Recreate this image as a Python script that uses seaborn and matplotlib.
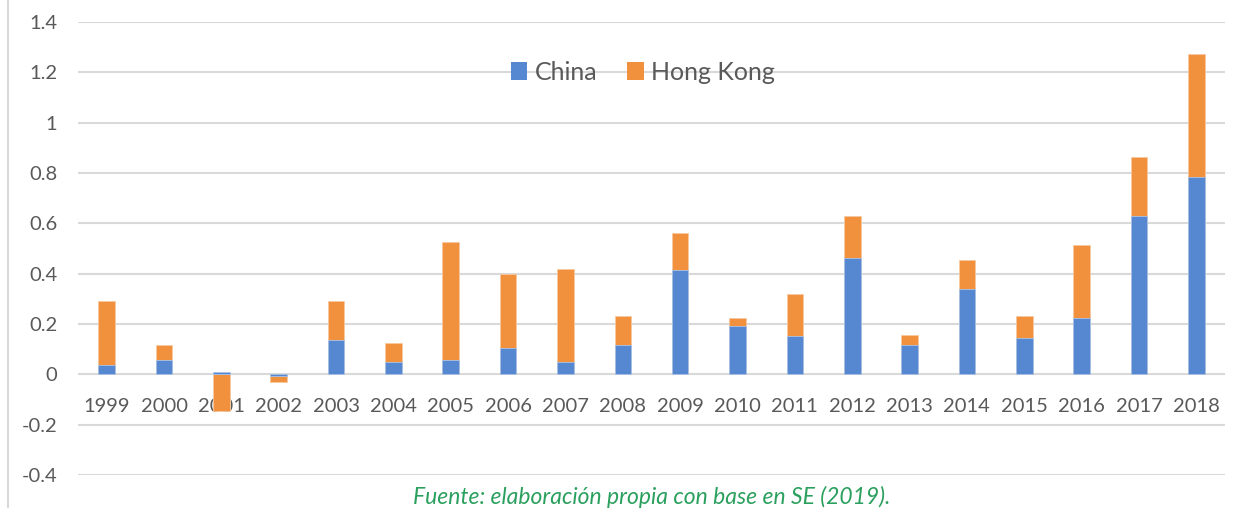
import matplotlib
matplotlib.use("Agg")
import matplotlib.pyplot as plt
from matplotlib.patches import Patch
from matplotlib.lines import Line2D
import seaborn as sns
import pandas as pd
import numpy as np

years = [str(y) for y in range(1999, 2019)]
china = [0.037, 0.058, 0.010, -0.008, 0.135, 0.048, 0.058, 0.105, 0.049, 0.117,
         0.416, 0.192, 0.154, 0.463, 0.117, 0.339, 0.145, 0.224, 0.630, 0.785]
hong_kong = [0.253, 0.057, -0.145, -0.022, 0.155, 0.078, 0.466, 0.293, 0.369, 0.116,
             0.147, 0.031, 0.166, 0.167, 0.038, 0.117, 0.088, 0.289, 0.233, 0.489]
yticks = [-0.4, -0.2, 0, 0.2, 0.4, 0.6, 0.8, 1, 1.2, 1.4]
ytick_labels = ["-0.4", "-0.2", "0", "0.2", "0.4", "0.6", "0.8", "1", "1.2", "1.4"]
source_text = "Fuente: elaboración propia con base en SE (2019)."

BLUE = "#5588D0"
ORANGE = "#F2913D"
GRID = "#D9D9D9"
TXT = "#595959"

sns.set_theme(style="white")
plt.rcParams["font.family"] = ["Lato", "DejaVu Sans"]

c = np.array(china)
h = np.array(hong_kong)
# Orange bar extends to the stacked end (same sign) or from zero (opposite sign)
outer = np.where(np.sign(c) == np.sign(h), c + h, h)
df = pd.DataFrame({"year": years, "china": c, "outer": outer})

fig = plt.figure(figsize=(12.44, 5.08), dpi=100)
ax = fig.add_axes([78 / 1244, 1 - 475 / 508, (1225 - 78) / 1244, (475 - 22) / 508])

ax.set_axisbelow(True)
for yv in yticks:
    ax.axhline(yv, color=GRID, lw=1.5, zorder=0)

sns.barplot(data=df, x="year", y="outer", order=years, color=ORANGE, width=0.29,
            saturation=1, edgecolor="#F7C9A0", linewidth=0.6, ax=ax, zorder=2)
sns.barplot(data=df, x="year", y="china", order=years, color=BLUE, width=0.29,
            saturation=1, edgecolor="#A9C3EA", linewidth=0.6, ax=ax, zorder=3)

ax.set_xlim(-0.5, len(years) - 0.5)
ax.set_ylim(-0.4, 1.4)
ax.set_yticks(yticks)
ax.set_yticklabels(ytick_labels)
ax.set_xlabel("")
ax.set_ylabel("")
for s in ax.spines.values():
    s.set_visible(False)
ax.spines["bottom"].set_position(("data", 0))
ax.tick_params(axis="x", length=0, pad=17, labelsize=14.5, labelcolor=TXT)
ax.tick_params(axis="y", length=0, pad=15, labelsize=14.5, labelcolor=TXT)
ax.grid(False)

handles = [Patch(facecolor=BLUE, edgecolor="none"), Patch(facecolor=ORANGE, edgecolor="none")]
fig.legend(handles, ["China", "Hong Kong"], loc="center", bbox_to_anchor=(643 / 1244, 1 - 72 / 508),
           ncol=2, frameon=False, fontsize=18, handlelength=0.65, handleheight=0.7,
           handletextpad=0.3, columnspacing=1.2, labelcolor=TXT)

fig.add_artist(Line2D([8 / 1244, 8 / 1244], [0, 1], transform=fig.transFigure, color=GRID, lw=1.5))

fig.text(652 / 1244, 1 - 497 / 508, source_text, ha="center", va="center", color="#2BA05E",
         fontsize=16.5, style="italic")

fig.savefig("out.png", dpi=100)
